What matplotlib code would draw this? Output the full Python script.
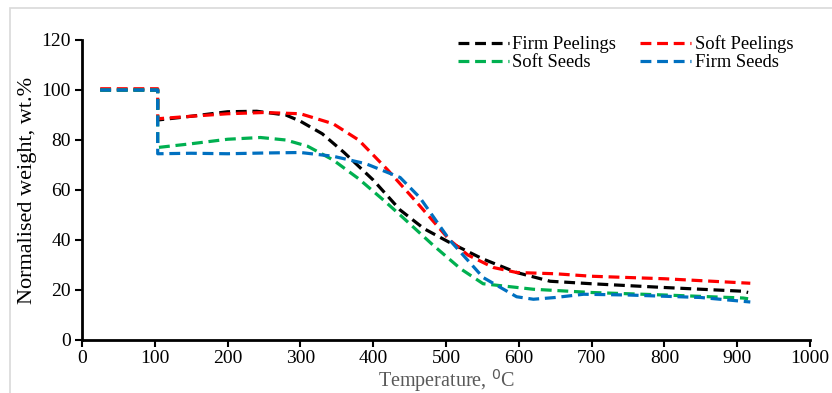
import matplotlib.pyplot as plt
from matplotlib.patches import Rectangle

plt.rcParams['font.family'] = ['Liberation Serif', 'DejaVu Serif']

# temperature (C) and normalised weight (wt.%)
temp_fp = [25, 60, 104, 104, 150, 200, 240, 280, 300, 330, 360, 400, 437, 470, 505, 550, 597, 643, 700, 800, 908, 915]
firm_peelings = [100, 100, 100, 88, 89.5, 91.3, 91.5, 90, 87.5, 82.5, 75, 64, 52, 44.5, 39, 32.5, 27, 23.5, 22.5, 21, 19.5, 19]

temp_sp = [25, 60, 104, 104, 150, 200, 250, 300, 345, 380, 420, 460, 505, 530, 565, 597, 650, 700, 800, 918]
soft_peelings = [100.5, 100.5, 100.5, 88.5, 89.5, 90.5, 91, 90.5, 86.5, 80, 68, 55, 40, 34, 29, 27, 26.5, 25.5, 24.5, 22.7]

temp_ss = [25, 60, 104, 104, 150, 200, 245, 280, 310, 345, 380, 414, 437, 482, 520, 551, 620, 700, 800, 908, 915]
soft_seeds = [100, 100, 100, 77, 78.5, 80.3, 81, 80, 77.5, 72, 64.5, 56, 50, 38, 28.5, 22.5, 20.3, 19, 18, 16.8, 16.5]

temp_fs = [25, 60, 104, 104, 150, 200, 250, 300, 345, 390, 437, 464, 505, 551, 597, 620, 650, 689, 750, 850, 918]
firm_seeds = [100, 100, 100, 74.5, 74.7, 74.5, 74.8, 75, 73.5, 70.5, 65, 57, 40, 25, 17.3, 16.3, 17, 18.3, 18, 17, 15.2]

fig = plt.figure(figsize=(8.32, 3.93), dpi=100)
fig.patches.append(Rectangle((10 / 832, -0.1), 1.2, (393 - 8) / 393 + 0.1,
                             transform=fig.transFigure, fill=False,
                             edgecolor='#d9d9d9', lw=1.2))
ax = fig.add_axes([82 / 832, 53 / 393, 728 / 832, 300 / 393])

dash = (3.4, 1.8)
l1, = ax.plot(temp_fp, firm_peelings, color='black', lw=2.3, dashes=dash, label='Firm Peelings')
l2, = ax.plot(temp_sp, soft_peelings, color='#FF0000', lw=2.3, dashes=dash, label='Soft Peelings')
l3, = ax.plot(temp_ss, soft_seeds, color='#00B050', lw=2.3, dashes=dash, label='Soft Seeds')
l4, = ax.plot(temp_fs, firm_seeds, color='#0070C0', lw=2.3, dashes=dash, label='Firm Seeds')

ax.set_xlim(0, 1000)
ax.set_ylim(0, 120)
ax.set_xticks(range(0, 1001, 100))
ax.set_yticks(range(0, 121, 20))
ax.tick_params(direction='out', length=5, width=1.5, labelsize=14, colors='black', pad=3)
ax.tick_params(axis='x', pad=2)
for s in ['top', 'right']:
    ax.spines[s].set_visible(False)
for s in ['left', 'bottom']:
    ax.spines[s].set_linewidth(2)

ax.set_xlabel('Temperature, $^0$C', fontsize=14.5, color='#595959', labelpad=0)
ax.set_ylabel('Normalised weight, wt.%', fontsize=16, color='black', labelpad=3)

ax.legend([l1, l3, l2, l4], ['Firm Peelings', 'Soft Seeds', 'Soft Peelings', 'Firm Seeds'],
          ncol=2, frameon=False, fontsize=13.3, loc='upper right',
          bbox_to_anchor=(1.0, 1.07), handlelength=2.75, handletextpad=0.2,
          columnspacing=1.3, labelspacing=0.05)

fig.savefig('out.png', dpi=100)
